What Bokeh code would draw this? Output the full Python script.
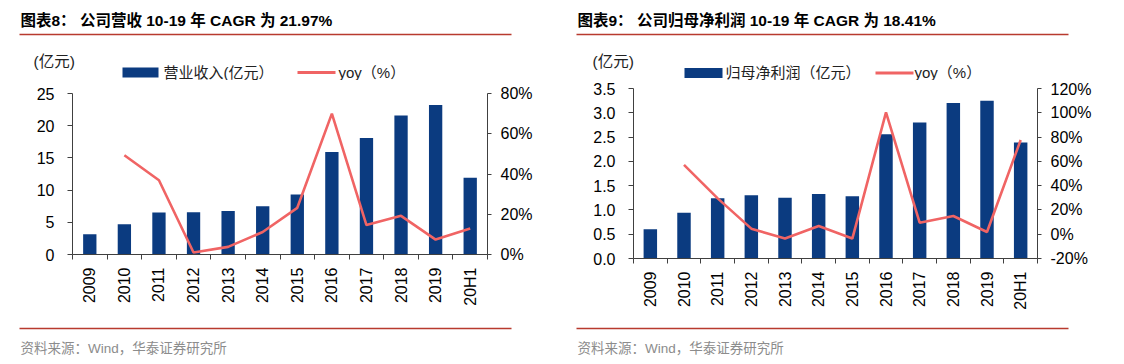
import math
from bokeh.plotting import figure
from bokeh.models import (Range1d, LinearAxis, FixedTicker, PrintfTickFormatter,
                          Label, BoxAnnotation, ColumnDataSource)
from bokeh.layouts import row, column
from bokeh.embed import file_html
from bokeh.resources import INLINE

# ---------------- data ----------------
years = ["2009", "2010", "2011", "2012", "2013", "2014", "2015", "2016", "2017", "2018", "2019", "20H1"]
revenue = [3.15, 4.70, 6.52, 6.57, 6.77, 7.50, 9.30, 15.90, 18.10, 21.60, 23.20, 11.90]
revenue_yoy = [float("nan"), 49.3, 36.9, 1.0, 3.8, 11.2, 23.2, 70.0, 14.6, 19.2, 7.4, 12.9]
profit = [0.60, 0.94, 1.24, 1.30, 1.25, 1.33, 1.28, 2.56, 2.80, 3.20, 3.25, 2.39]
profit_yoy = [float("nan"), 57.1, 29.5, 4.6, -3.6, 6.7, -3.6, 100.3, 9.5, 15.0, 1.8, 77.6]

left_ticks = [0, 5, 10, 15, 20, 25]
left_pct_ticks = [0, 20, 40, 60, 80]
right_ticks = [0.0, 0.5, 1.0, 1.5, 2.0, 2.5, 3.0, 3.5]
right_pct_ticks = [-20, 0, 20, 40, 60, 80, 100, 120]

title1 = "图表8：  公司营收 10-19 年 CAGR 为 21.97%"
title2 = "图表9：  公司归母净利润 10-19 年 CAGR 为 18.41%"
unit_label = "(亿元)"
bar_label1 = "营业收入(亿元）"
bar_label2 = "归母净利润（亿元）"
line_label = "yoy（%）"
source_text = "资料来源：Wind，华泰证券研究所"

# ---------------- style ----------------
BAR = "#0B3B80"
LINE = "#F06464"
RULE = "#B83A2E"
AXIS = "#404040"
LATIN = "Liberation Sans"
MIXED = "Liberation Sans, Noto Sans CJK SC"

SPLIT = 560
PAGE_W = 1124
HEAD_H = 80
FOOT_TOP = 320
PAGE_H = 364


def make_panel(vals, yoy, yr, yticks, yfmt, pr, pticks, frame, borders, bar_w):
    n = len(years)
    xs = [i + 0.5 for i in range(n)]
    src = ColumnDataSource(dict(x=xs, v=vals, y=yoy, cat=years))
    p = figure(frame_width=frame[0], frame_height=frame[1],
               min_border_left=borders[0], min_border_right=borders[1],
               min_border_top=borders[2], min_border_bottom=borders[3],
               x_range=Range1d(0, n), y_range=Range1d(*yr),
               x_axis_type=None, y_axis_type=None,
               output_backend="svg", toolbar_location=None)
    p.outline_line_color = None
    p.background_fill_color = "white"
    p.border_fill_color = "white"
    p.extra_y_ranges = {"pct": Range1d(*pr)}

    p.vbar(x="x", top="v", width=bar_w, bottom=0, source=src,
           fill_color=BAR, line_color=None)
    p.line(x="x", y="y", source=src, y_range_name="pct",
           line_color=LINE, line_width=2.6)

    xa = LinearAxis(ticker=FixedTicker(ticks=xs, minor_ticks=list(range(n + 1))),
                    major_label_overrides={x: c for x, c in zip(xs, years)},
                    major_label_orientation=math.pi / 2,
                    major_tick_out=0, major_tick_in=0,
                    minor_tick_out=5, minor_tick_in=0,
                    major_label_standoff=8,
                    axis_line_color=AXIS, minor_tick_line_color=AXIS,
                    major_label_text_font=LATIN, major_label_text_font_size="16px",
                    major_label_text_color="black")
    p.add_layout(xa, "below")

    ya = LinearAxis(ticker=FixedTicker(ticks=yticks),
                    formatter=PrintfTickFormatter(format=yfmt),
                    major_tick_out=5, major_tick_in=0, minor_tick_out=0, minor_tick_in=0,
                    major_label_standoff=13, axis_line_color=AXIS, major_tick_line_color=AXIS,
                    major_label_text_font=LATIN, major_label_text_font_size="16px",
                    major_label_text_color="black")
    p.add_layout(ya, "left")

    ra = LinearAxis(y_range_name="pct", ticker=FixedTicker(ticks=pticks),
                    formatter=PrintfTickFormatter(format="%d%%"),
                    major_tick_out=4, major_tick_in=0, minor_tick_out=0, minor_tick_in=0,
                    major_label_standoff=9, axis_line_color=AXIS, major_tick_line_color=AXIS,
                    major_label_text_font=LATIN, major_label_text_font_size="16px",
                    major_label_text_color="black")
    p.add_layout(ra, "right")
    return p


def deco_figure(y0, y1):
    f = figure(width=PAGE_W, height=y1 - y0, min_border=0,
               x_range=Range1d(0, PAGE_W), y_range=Range1d(y1, y0),
               x_axis_type=None, y_axis_type=None,
               output_backend="svg", toolbar_location=None)
    f.outline_line_color = None
    f.background_fill_color = "white"
    f.border_fill_color = "white"
    f.xgrid.visible = False
    f.ygrid.visible = False
    return f


def text(f, x, y, s, size, color="#222222", bold=False):
    f.add_layout(Label(x=x, y=y, text=s, text_font=MIXED, text_font_size=size,
                       text_font_style="bold" if bold else "normal",
                       text_baseline="middle", text_align="left", text_color=color))


def box(f, l, r, t, b, color):
    f.add_layout(BoxAnnotation(left=l, right=r, top=t, bottom=b,
                               fill_color=color, fill_alpha=1, line_color=None))


# ---------------- header (titles, rules, unit labels, legends) ----------------
head = deco_figure(0, HEAD_H)
for x0, title, lab_x in ((19, title1, 33), (576, title2, 592)):
    text(head, x0 + 1, 20, title, "15.5px", color="black", bold=True)
    box(head, x0, x0 + 492, 33.3, 34.8, RULE)
    text(head, lab_x, 61, unit_label, "15.5px")

legends = [(122, 158, 163, 297, 335, 338, 72, bar_label1),
           (684, 722, 725, 875, 913, 914, 72.5, bar_label2)]
for bx0, bx1, bl, lx0, lx1, ll, cy, lab in legends:
    box(head, bx0, bx1, cy - 5, cy + 5, BAR)
    text(head, bl, cy - 0.5, lab, "15px")
    box(head, lx0, lx1, cy - 1.5, cy + 1.5, LINE)
    text(head, ll, cy - 0.5, line_label, "15px")

# ---------------- charts ----------------
p1 = make_panel(revenue, revenue_yoy, (0, 25), left_ticks, "%d", (0, 80), left_pct_ticks,
                frame=(415, 161), borders=(72, SPLIT - 487, 93 - HEAD_H, FOOT_TOP - 254), bar_w=0.385)
p2 = make_panel(profit, profit_yoy, (0, 3.5), right_ticks, "%.1f", (-20, 120), right_pct_ticks,
                frame=(404, 170), borders=(633 - SPLIT, PAGE_W - 1037, 88 - HEAD_H, FOOT_TOP - 258), bar_w=0.4)

# ---------------- footer (rules, sources) ----------------
foot = deco_figure(FOOT_TOP, PAGE_H)
for x0 in (19, 576):
    box(foot, x0, x0 + 492, 327.3, 328.8, RULE)
    text(foot, x0 + 1, 348, source_text, "13.5px", color="#8C8C8C")

# each chart wrapped in its own column so their frames are not aligned to each other
layout = column(head, row(column(p1), column(p2)), foot)
open("out.html", "w").write(file_html(layout, INLINE))
